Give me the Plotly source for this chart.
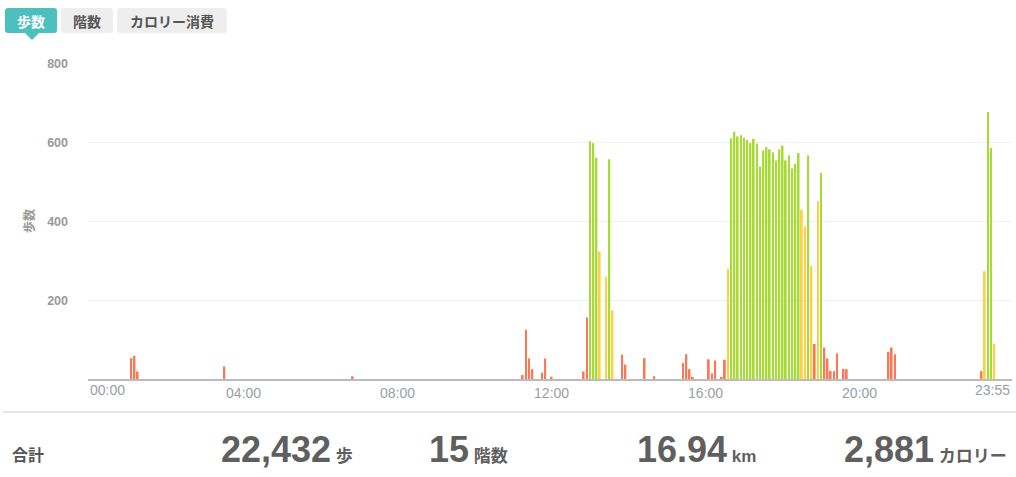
import plotly.graph_objects as go

# ---------------- data ----------------
times = ["01:05", "01:10", "01:15", "03:30", "06:50",
         "11:15", "11:20", "11:25", "11:30", "11:45", "11:50", "12:00",
         "12:50", "12:55", "13:00", "13:05", "13:10", "13:15", "13:25", "13:30", "13:35",
         "13:50", "13:55", "14:25", "14:40", "15:25", "15:30", "15:35", "15:40",
         "16:05", "16:10", "16:15", "16:25", "16:30", "16:35",
         "16:40", "16:45", "16:50", "16:55", "17:00", "17:05", "17:10", "17:15",
         "17:20", "17:25", "17:30", "17:35", "17:40", "17:45", "17:50", "17:55",
         "18:00", "18:05", "18:10", "18:15", "18:20", "18:25",
         "18:30", "18:35", "18:40", "18:45", "18:50", "18:55", "19:00",
         "19:05", "19:10", "19:15", "19:20", "19:25", "19:35", "19:40",
         "20:45", "20:50", "20:55",
         "23:10", "23:15", "23:20", "23:25", "23:30"]
steps = [53, 59, 19, 32, 7,
         10, 125, 52, 25, 16, 52, 6,
         19, 156, 604, 599, 562, 324, 260, 558, 174,
         62, 37, 53, 7, 41, 63, 25, 4,
         50, 14, 47, 4, 49, 280,
         611, 628, 616, 619, 613, 607, 599, 610,
         598, 540, 580, 589, 583, 576, 555, 583,
         593, 555, 568, 535, 546, 574,
         430, 387, 568, 287, 89, 452, 524,
         80, 52, 21, 20, 65, 26, 25,
         69, 80, 63,
         20, 274, 678, 587, 90]
levels = ["r", "r", "r", "r", "r",
          "r", "r", "r", "r", "r", "r", "r",
          "r", "r", "g", "g", "g", "y", "y", "g", "y",
          "r", "r", "r", "r", "r", "r", "r", "r",
          "r", "r", "r", "r", "r", "y",
          "g", "g", "g", "g", "g", "g", "g", "g",
          "g", "g", "g", "g", "g", "g", "g", "g",
          "g", "g", "g", "g", "g", "g",
          "y", "y", "g", "y", "r", "y", "g",
          "r", "r", "r", "r", "r", "r", "r",
          "r", "r", "r",
          "r", "y", "g", "g", "y"]

y_ticks = [200, 400, 600, 800]
x_tick_labels = ["00:00", "04:00", "08:00", "12:00", "16:00", "20:00", "23:55"]
tabs = ["歩数", "階数", "カロリー消費"]
total_label = "合計"
totals = ["22,432", "15", "16.94", "2,881"]
total_units = ["歩", "階数", "km", "カロリー"]

# ---------------- helpers ----------------
W, H = 1016, 477
L, R, T, B = 88, 1012, 64, 379
COLORS = {"r": "#ff7656", "y": "#ffcf45", "g": "#a6db35"}
FONT = "Liberation Sans, Arial, Noto Sans CJK JP, sans-serif"
CJK = "Noto Sans CJK JP, Liberation Sans, sans-serif"
TICK_COLOR = "#9a9ea6"


def px(x):
    return (x - L) / (R - L)


def py(y):
    return (B - y) / (B - T)


def slot(t):
    h, m = t.split(":")
    return int(h) * 12 + int(m) // 5


def rounded(x0, y0, x1, y1, r=3):
    pts = [
        f"M {px(x0 + r)},{py(y0)}",
        f"L {px(x1 - r)},{py(y0)}",
        f"Q {px(x1)},{py(y0)} {px(x1)},{py(y0 + r)}",
        f"L {px(x1)},{py(y1 - r)}",
        f"Q {px(x1)},{py(y1)} {px(x1 - r)},{py(y1)}",
        f"L {px(x0 + r)},{py(y1)}",
        f"Q {px(x0)},{py(y1)} {px(x0)},{py(y1 - r)}",
        f"L {px(x0)},{py(y0 + r)}",
        f"Q {px(x0)},{py(y0)} {px(x0 + r)},{py(y0)}",
        "Z",
    ]
    return " ".join(pts)


fig = go.Figure()
fig.add_trace(go.Bar(
    x=[slot(t) for t in times],
    y=steps,
    width=0.55,
    marker=dict(color=[COLORS[l] for l in levels], line=dict(width=0)),
    hoverinfo="skip",
))

shapes = []
annotations = []

# tabs
tab_boxes = [(5, 57), (61, 113), (117, 227)]
for i, (name, (x0, x1)) in enumerate(zip(tabs, tab_boxes)):
    active = i == 0
    shapes.append(dict(type="path", xref="paper", yref="paper",
                       path=rounded(x0, 8, x1, 33),
                       fillcolor="#4cbfbe" if active else "#eeeeee",
                       line=dict(width=0), layer="above"))
    annotations.append(dict(x=px((x0 + x1) / 2), y=py(20.5), xref="paper", yref="paper",
                            text=f"<b>{name}</b>", showarrow=False,
                            xanchor="center", yanchor="middle",
                            font=dict(family=CJK, size=14,
                                      color="#ffffff" if active else "#555555")))
# pointer under active tab
shapes.append(dict(type="path", xref="paper", yref="paper",
                   path=f"M {px(25)},{py(33)} L {px(39)},{py(33)} L {px(32)},{py(40)} Z",
                   fillcolor="#4cbfbe", line=dict(width=0), layer="above"))

# separator line
shapes.append(dict(type="line", xref="paper", yref="paper",
                   x0=px(3), x1=px(1016), y0=py(412), y1=py(412),
                   line=dict(color="#cccccc", width=1)))

# y title
annotations.append(dict(x=px(28), y=py(221), xref="paper", yref="paper",
                        text="<b>歩数</b>", textangle=-90, showarrow=False,
                        xanchor="center", yanchor="middle",
                        font=dict(family=CJK, size=12, color="#999999")))

# first / last x labels (aligned to plot edges)
annotations.append(dict(x=0, y=py(390), xref="paper", yref="paper",
                        text=x_tick_labels[0], showarrow=False,
                        xanchor="left", yanchor="middle",
                        font=dict(family=FONT, size=14, color=TICK_COLOR)))
annotations.append(dict(x=1, y=py(390), xref="paper", yref="paper",
                        text=x_tick_labels[-1], showarrow=False,
                        xanchor="right", yanchor="middle",
                        font=dict(family=FONT, size=14, color=TICK_COLOR)))

# footer
annotations.append(dict(x=px(10), y=py(454), xref="paper", yref="paper",
                        text=f"<b>{total_label}</b>", showarrow=False,
                        xanchor="left", yanchor="middle",
                        font=dict(family=CJK, size=16, color="#555555")))
total_x = [219, 427, 635, 842]
for xx, val, unit in zip(total_x, totals, total_units):
    annotations.append(dict(
        x=px(xx), y=py(449), xref="paper", yref="paper",
        text=(f"<b>{val}</b>"
              f"<span style='font-size:17px'><b>&nbsp;{unit}</b></span>"),
        showarrow=False, xanchor="left", yanchor="middle",
        font=dict(family=FONT, size=36, color="#5f5f5f")))

fig.update_layout(
    width=W, height=H,
    margin=dict(l=L, r=W - R, t=T, b=H - B, pad=0),
    paper_bgcolor="#ffffff", plot_bgcolor="#ffffff",
    showlegend=False,
    shapes=shapes,
    annotations=annotations,
    xaxis=dict(
        range=[-0.5, 287.5],
        tickvals=[48, 96, 144, 192, 240],
        ticktext=x_tick_labels[1:-1],
        showgrid=False, zeroline=False,
        showline=True, linecolor="#bbbbbb", linewidth=2,
        ticks="", tickfont=dict(family=FONT, size=14, color=TICK_COLOR),
        fixedrange=True,
    ),
    yaxis=dict(
        range=[0, 800],
        tickvals=y_ticks,
        ticktext=[f"<b>{v}</b>" for v in y_ticks],
        showgrid=True, gridcolor="#f0f0f0", gridwidth=1,
        zeroline=False, showline=False, ticks="",
        ticklabelstandoff=19,
        tickfont=dict(family=FONT, size=12.5, color="#999999"),
        fixedrange=True,
    ),
)

fig.write_html("out.html", config={"displayModeBar": False},
               post_script="document.body.style.margin='0';document.body.style.overflow='hidden';")
